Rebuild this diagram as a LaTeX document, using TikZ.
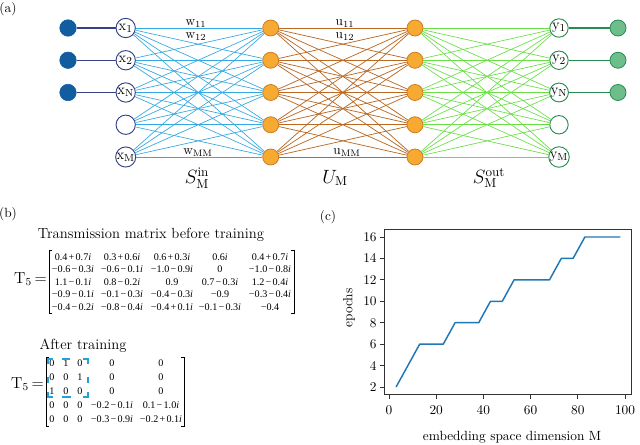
\documentclass[tikz,border=0pt]{standalone}
\usepackage{fontspec}
\newfontfamily\timesf{Liberation Serif}
\definecolor{dblue}{RGB}{18,92,160}
\definecolor{navy}{RGB}{55,65,135}
\definecolor{lblue}{RGB}{52,168,224}
\definecolor{orfill}{RGB}{247,170,50}
\definecolor{ordraw}{RGB}{205,125,35}
\definecolor{edgebrown}{RGB}{185,105,35}
\definecolor{lgreen}{RGB}{105,222,70}
\definecolor{dgreen}{RGB}{40,140,80}
\definecolor{gfill}{RGB}{110,190,140}
\definecolor{plotblue}{RGB}{31,119,180}
\definecolor{boxblue}{RGB}{40,160,215}
\definecolor{axcol}{RGB}{50,50,50}
\newcommand\ii{\textit{i}}
\newcommand\mn{\kern0.12em−\kern0.12em}
\newcommand\pl{\kern0.12em+\kern0.12em}
\begin{document}
\begin{tikzpicture}[x=0.75pt,y=-0.75pt,
  inpn/.style={circle,fill=dblue,draw=dblue,minimum size=12.4pt,inner sep=0pt},
  xnode/.style={circle,draw=navy,fill=white,line width=0.7pt,minimum size=14.5pt,inner sep=0pt,font=\fontsize{11}{11}\selectfont},
  onode/.style={circle,fill=orfill,draw=ordraw,line width=0.6pt,minimum size=12pt,inner sep=0pt},
  ynode/.style={circle,draw=dgreen,fill=white,line width=0.7pt,minimum size=13.8pt,inner sep=0pt,font=\fontsize{11}{11}\selectfont},
  outn/.style={circle,fill=gfill,draw=dgreen,line width=0.6pt,minimum size=12pt,inner sep=0pt},
  bedge/.style={lblue,line width=0.5pt},
  oedge/.style={edgebrown,line width=0.55pt},
  gedge/.style={lgreen,line width=0.5pt},
  inl/.style={navy,line width=0.8pt},
  outl/.style={dgreen,line width=0.8pt},
  wlab/.style={inner sep=0pt,font=\fontsize{10}{10}\selectfont},
  biglab/.style={inner sep=0pt,font=\fontsize{14}{16}\selectfont},
  panel/.style={inner sep=0pt,font=\fontsize{10}{12}\selectfont},
  ttl/.style={inner sep=0pt,font=\fontsize{11}{13}\selectfont},
  ment/.style={inner sep=0pt,font=\timesf\fontsize{7.6}{9}\selectfont},
  brk/.style={line width=0.5pt},
  dbox/.style={boxblue,line width=0.8pt},
  tick/.style={inner sep=0pt,font=\fontsize{10}{12}\selectfont}]
\useasboundingbox (0,0) rectangle (640,445);

% ---------------- (a) network ----------------
\node[panel] (la) at (8,9) {(a)};
\foreach \k/\y in {1/28,2/60.25,3/92.5,4/124.75,5/157}{
  \node[onode] (o\k) at (270.7,\y) {};
  \node[onode] (p\k) at (415,\y) {};
}
\node[xnode] (x1) at (125.7,28) {$\mathrm{x}_1$};
\node[xnode] (x2) at (125.7,60.25) {$\mathrm{x}_2$};
\node[xnode] (x3) at (125.7,92.5) {$\mathrm{x}_{\mathrm{N}}$};
\node[xnode] (x4) at (125.7,124.75) {};
\node[xnode] (x5) at (125.7,157) {$\mathrm{x}_{\mathrm{M}}$};
\node[ynode] (y1) at (559,28) {$\mathrm{y}_1$};
\node[ynode] (y2) at (559,60.25) {$\mathrm{y}_2$};
\node[ynode] (y3) at (559,92.5) {$\mathrm{y}_{\mathrm{N}}$};
\node[ynode] (y4) at (559,124.75) {};
\node[ynode] (y5) at (559,157) {$\mathrm{y}_{\mathrm{M}}$};
\foreach \k/\y in {1/28,2/60.25,3/92.5}{
  \node[inpn] (in\k) at (68,\y) {};
  \node[outn] (out\k) at (618,\y) {};
  \draw[inl] (in\k) -- (x\k);
  \draw[outl] (y\k) -- (out\k);
}
\foreach \i in {1,...,5}{
  \foreach \j in {1,...,5}{
    \draw[bedge] (x\i) -- (o\j);
    \draw[oedge] (o\i) -- (p\j);
    \draw[gedge] (p\i) -- (y\j);
  }
}
\node[wlab] (w11) at (196,24) {w$_{11}$};
\node[wlab] (w12) at (196,37) {w$_{12}$};
\node[wlab] (wmm) at (198,153) {w$_{\mathrm{MM}}$};
\node[wlab] (u11) at (345,24) {u$_{11}$};
\node[wlab] (u12) at (345,37) {u$_{12}$};
\node[wlab] (umm) at (347,153) {u$_{\mathrm{MM}}$};
\node[biglab] (sin) at (197,178) {$S_{\mathrm{M}}^{\mathrm{in}}$};
\node[biglab] (um) at (335,178) {$U_{\mathrm{M}}$};
\node[biglab] (sout) at (489,178) {$S_{\mathrm{M}}^{\mathrm{out}}$};

% ---------------- (b) matrices ----------------
\node[panel] (lb) at (8,214) {(b)};
\node[ttl] (t1) at (151,235) {Transmission matrix before training};
\node[inner sep=0pt,anchor=east,font=\fontsize{12}{12}\selectfont] (T1) at (47,279) {T$_5$\,=};
\foreach \r/\y/\a/\b/\c/\d/\e in {
  1/257/{0.4\pl0.7\ii}/{0.3\pl0.6\ii}/{0.6\pl0.3\ii}/{0.6\ii}/{0.4\pl0.7\ii},
  2/269.5/{−0.6\mn0.3\ii}/{−0.6\mn0.1\ii}/{−1.0\mn0.9\ii}/{0}/{−1.0\mn0.8\ii},
  3/282/{1.1\mn0.1\ii}/{0.8\mn0.2\ii}/{0.9}/{0.7\mn0.3\ii}/{1.2\mn0.4\ii},
  4/294.5/{−0.9\mn0.1\ii}/{−0.1\mn0.3\ii}/{−0.4\mn0.3\ii}/{−0.9}/{−0.3\mn0.4\ii},
  5/307/{−0.4\mn0.2\ii}/{−0.8\mn0.4\ii}/{−0.4\pl0.1\ii}/{−0.1\mn0.3\ii}/{−0.4}}{
  \node[ment] (ma\r a) at (73,\y) {\a};
  \node[ment] (ma\r b) at (122,\y) {\b};
  \node[ment] (ma\r c) at (172,\y) {\c};
  \node[ment] (ma\r d) at (220,\y) {\d};
  \node[ment] (ma\r e) at (270,\y) {\e};
}
\draw[brk] (52,250) -- (49,250) -- (49,313) -- (52,313);
\draw[brk] (291,250) -- (294,250) -- (294,313) -- (291,313);

\node[ttl] (t2) at (83,346) {After training};
\node[inner sep=0pt,anchor=east,font=\fontsize{12}{12}\selectfont] (T2) at (44,384) {T$_5$\,=};
\foreach \r/\y/\a/\b/\c/\d/\e in {
  1/363/{0}/{1}/{0}/{0}/{0},
  2/377/{0}/{0}/{1}/{0}/{0},
  3/391/{1}/{0}/{0}/{0}/{0},
  4/405/{0}/{0}/{0}/{−0.2\mn0.1\ii}/{0.1\mn1.0\ii},
  5/419/{0}/{0}/{0}/{−0.3\mn0.9\ii}/{−0.2\pl0.1\ii}}{
  \node[ment] (mb\r a) at (52,\y) {\a};
  \node[ment] (mb\r b) at (66,\y) {\b};
  \node[ment] (mb\r c) at (80,\y) {\c};
  \node[ment] (mb\r d) at (112,\y) {\d};
  \node[ment] (mb\r e) at (161,\y) {\e};
}
\draw[brk] (49,357) -- (46,357) -- (46,426) -- (49,426);
\draw[brk] (181,357) -- (184,357) -- (184,426) -- (181,426);
% dashed highlight box
\draw[dbox] (48,364) -- (48,359) -- (53,359);
\draw[dbox] (62,359) -- (70,359);
\draw[dbox] (83,359) -- (88,359) -- (88,364);
\draw[dbox] (88,377) -- (88,383);
\draw[dbox] (88,392) -- (88,397) -- (83,397);
\draw[dbox] (62,397) -- (71,397);
\draw[dbox] (53,397) -- (48,397) -- (48,392);
\draw[dbox] (48,377) -- (48,383);

% ---------------- (c) plot ----------------
\node[panel] (lc) at (328,217) {(c)};
\begin{scope}[shift={(389,408.43)},x=1.77pt,y=8.0357pt]
  \draw[axcol,line width=0.6pt] (-1.75,1.3) rectangle (102.75,16.7);
  \foreach \v in {0,20,40,60,80,100}{
    \draw[axcol,line width=0.6pt] (\v,1.3) -- ++(0pt,-3.5pt);
    \node[tick] (xt\v) at ([yshift=-11.6pt]\v,1.3) {\v};
  }
  \foreach \u in {2,4,...,16}{
    \draw[axcol,line width=0.6pt] (-1.75,\u) -- ++(-3.5pt,0pt);
    \node[tick,anchor=east] (yt\u) at ([xshift=-6pt]-1.75,\u) {\u};
  }
  \draw[plotblue,line width=1.1pt,line join=round] plot coordinates {(3,2) (13,6) (23,6) (28,8) (38,8) (43,10) (48,10) (53,12) (68,12) (73,14) (78,14) (83,16) (98,16)};
\end{scope}
\node[panel,rotate=90] (ylab) at (349,308) {epochs};
\node[panel] (xlab) at (512,437) {embedding space dimension M};
\end{tikzpicture}
\end{document}
